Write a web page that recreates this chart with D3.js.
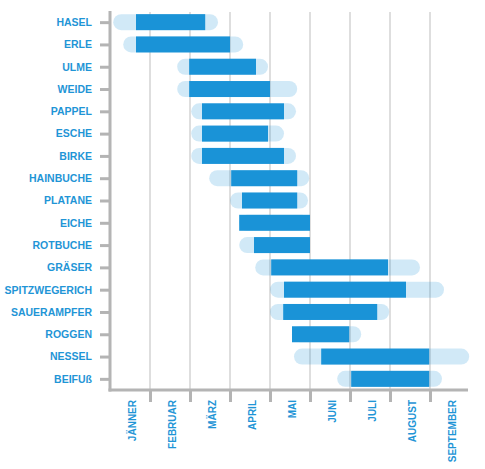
<!DOCTYPE html>
<html>
<head>
<meta charset="utf-8">
<script src="https://cdn.jsdelivr.net/npm/d3@7"></script>
<style>
  body { margin: 0; background: #fff; }
  .labels text { font-family: "Liberation Sans", Arial, sans-serif; font-weight: bold; fill: #1f95d6; }
</style>
</head>
<body>
<div id="pollen-chart"></div>
<script>
// pollen calendar, values are in months (0 = start of Jänner)
const species = ["HASEL", "ERLE", "ULME", "WEIDE", "PAPPEL", "ESCHE", "BIRKE", "HAINBUCHE", "PLATANE",
  "EICHE", "ROTBUCHE", "GRÄSER", "SPITZWEGERICH", "SAUERAMPFER", "ROGGEN", "NESSEL", "BEIFUß"];
const months = ["JÄNNER", "FEBRUAR", "MÄRZ", "APRIL", "MAI", "JUNI", "JULI", "AUGUST", "SEPTEMBER"];

// whole season (light bars)
const seasonStart = [0.08, 0.33, 1.68, 1.68, 2.03, 2.03, 2.03, 2.48, 3.0, 3.23, 3.23, 3.63, 4.0, 4.0, 4.55, 4.6, 5.68];
const seasonEnd   = [2.7, 3.33, 3.95, 4.68, 4.65, 4.35, 4.65, 4.98, 4.95, 5.0, 5.0, 7.75, 8.35, 6.98, 6.28, 8.98, 8.3];
// main flowering time (dark bars)
const peakStart = [0.65, 0.65, 1.98, 1.98, 2.3, 2.3, 2.3, 3.03, 3.3, 3.23, 3.6, 4.03, 4.35, 4.33, 4.55, 5.28, 6.03];
const peakEnd   = [2.38, 3.0, 3.65, 4.0, 4.35, 3.95, 4.35, 4.68, 4.68, 5.0, 5.0, 6.95, 7.4, 6.68, 5.98, 7.98, 7.98];

const width = 485, height = 469;
const margins = { left: 110, right: 470, top: 11, bottom: 390 };
const barH = 16;

const svg = d3.select("#pollen-chart").append("svg")
  .attr("width", width)
  .attr("height", height);

const x = d3.scaleLinear().domain([0, months.length]).range([margins.left, margins.right]);
const xMonth = d3.scaleBand().domain(months).range([margins.left, margins.right]);
const y = d3.scalePoint().domain(species).range([margins.top, margins.bottom]).padding(0.5);

const rows = species.map((s, i) => ({
  name: s, s0: seasonStart[i], s1: seasonEnd[i], p0: peakStart[i], p1: peakEnd[i]
}));

// vertical grid at month borders
svg.append("g")
  .selectAll("line")
  .data(d3.range(1, months.length))
  .enter().append("line")
    .attr("x1", (d) => x(d))
    .attr("x2", (d) => x(d))
    .attr("y1", margins.top + 1)
    .attr("y2", margins.bottom)
    .attr("stroke", "#dedede")
    .attr("stroke-width", 2);

// light season bars with rounded ends
svg.append("g")
  .selectAll("rect")
  .data(rows)
  .enter().append("rect")
    .attr("x", (d) => x(d.s0))
    .attr("y", (d) => y(d.name) - barH / 2)
    .attr("width", (d) => x(d.s1) - x(d.s0))
    .attr("height", barH)
    .attr("rx", barH / 2)
    .attr("fill", "#1b93d7")
    .attr("opacity", 0.2);

// dark peak bars
svg.append("g")
  .selectAll("rect")
  .data(rows)
  .enter().append("rect")
    .attr("x", (d) => x(d.p0))
    .attr("y", (d) => y(d.name) - barH / 2)
    .attr("width", (d) => x(d.p1) - x(d.p0))
    .attr("height", barH)
    .attr("fill", "#1a93d7");

// left axis
const axisY = d3.axisLeft(y).tickSizeInner(10).tickSizeOuter(0).tickPadding(8);
const leftAxis = svg.append("g")
  .attr("class", "labels")
  .attr("transform", `translate(${margins.left},0)`)
  .call(axisY);
leftAxis.select(".domain").attr("d", `M0,${margins.top}V${margins.bottom + 1.5}`);
leftAxis.selectAll("text").style("font-size", "10.5px");

// bottom axis: ticks at month borders
const axisX = d3.axisBottom(x).tickValues(d3.range(1, months.length)).tickSize(12).tickFormat("");
const bottomAxis = svg.append("g")
  .attr("transform", `translate(0,${margins.bottom})`)
  .call(axisX);
bottomAxis.select(".domain").attr("d", `M${margins.left - 1.5},0H${margins.right - 2}`);

// month names, rotated, centered in each month
const axisMonths = d3.axisBottom(xMonth).tickSize(0).tickPadding(0);
const monthAxis = svg.append("g")
  .attr("class", "labels")
  .attr("transform", `translate(2,${margins.bottom})`)
  .call(axisMonths);
monthAxis.select(".domain").remove();
monthAxis.selectAll("text")
  .attr("transform", "rotate(-90)")
  .attr("text-anchor", "end")
  .attr("x", -10)
  .attr("y", 0)
  .attr("dy", "0.35em")
  .style("font-size", "10px");

[leftAxis, bottomAxis].forEach((a) => {
  a.selectAll(".domain, .tick line")
    .attr("stroke", "#b4b4b4")
    .attr("stroke-width", 3);
});
</script>
</body>
</html>
